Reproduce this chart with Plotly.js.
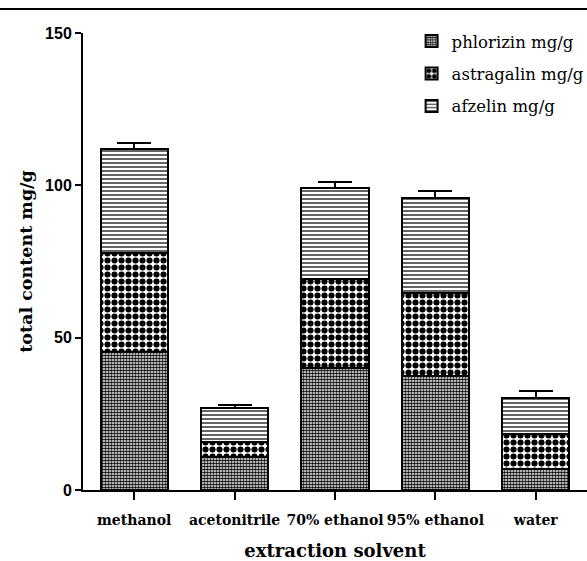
<!DOCTYPE html>
<html>
<head>
<meta charset="utf-8">
<script src="https://cdn.plot.ly/plotly-3.0.1.min.js"></script>
<style>html,body{margin:0;padding:0;background:#fff;}#chart{width:587px;height:561px;}</style>
</head>
<body>
<div id="chart"></div>
<script>
const categories = ['methanol', 'acetonitrile', '70% ethanol', '95% ethanol', 'water'];
const phlorizin = [45.3, 10.8, 40.2, 37.4, 6.9];
const astragalin = [32.5, 4.9, 29.2, 27.4, 11.5];
const afzelin = [34.1, 11.1, 29.7, 31.2, 11.8];
const phlorizinErr = [3.5, 0.8, 2.8, 1.3, 2.0];
const astragalinErr = [3.6, 0.6, 2.5, 1.8, 3.6];
const afzelinErr = [2.0, 1.0, 2.1, 2.2, 2.3];
const seriesNames = ['phlorizin mg/g', 'astragalin mg/g', 'afzelin mg/g'];
const yTicks = [0, 50, 100, 150];

function errBar(arr) {
  return {type: 'data', symmetric: false, array: arr, arrayminus: arr.map(() => 0),
          color: '#000', thickness: 2, width: 17};
}
const lineStyle = {color: '#000', width: 2};
const traces = [
  {type: 'bar', name: seriesNames[0], x: categories, y: phlorizin, width: 0.67, legendgroup: 'a',
   marker: {color: '#fff', line: lineStyle, pattern: {shape: '.', size: 3, solidity: 0.6, fgcolor: '#000', bgcolor: '#fff', fillmode: 'replace'}},
   error_y: errBar(phlorizinErr)},
  {type: 'bar', name: seriesNames[1], x: categories, y: astragalin, width: 0.67, legendgroup: 'b',
   marker: {color: '#fff', line: lineStyle, pattern: {shape: '.', size: 7, solidity: 0.6, fgcolor: '#000', bgcolor: '#fff', fillmode: 'replace'}},
   error_y: errBar(astragalinErr)},
  {type: 'bar', name: seriesNames[2], x: categories, y: afzelin, width: 0.67, legendgroup: 'c',
   marker: {color: '#fff', line: lineStyle, pattern: {shape: '-', size: 4, solidity: 0.35, fgcolor: '#222', bgcolor: '#fff', fillmode: 'replace'}},
   error_y: errBar(afzelinErr)}
];

const layout = {
  width: 587, height: 561,
  margin: {l: 83, r: 0, t: 33, b: 71, pad: 0, autoexpand: false},
  paper_bgcolor: '#fff', plot_bgcolor: '#fff',
  barmode: 'stack',
  showlegend: true,
  legend: {x: 0.652, xanchor: 'left', y: 1.02, yanchor: 'top', traceorder: 'grouped', tracegroupgap: 8,
           font: {family: 'DejaVu Serif', size: 16.5, color: '#000'}, bgcolor: 'rgba(0,0,0,0)'},
  xaxis: {
    type: 'category', range: [-0.51, 4.51], tickangle: 0, automargin: false,
    showline: true, linecolor: '#000', linewidth: 2,
    ticks: 'outside', ticklen: 8, tickwidth: 2, tickcolor: '#000',
    ticklabelstandoff: 8,
    showgrid: false, zeroline: false,
    tickfont: {family: 'DejaVu Serif', size: 14, color: '#000', weight: 'bold'},
    title: {text: 'extraction solvent', standoff: 19,
            font: {family: 'DejaVu Serif', size: 18, color: '#000', weight: 'bold'}}
  },
  yaxis: {
    range: [0, 150], tickvals: yTicks, ticktext: yTicks.map(String), automargin: false,
    showline: true, linecolor: '#000', linewidth: 2,
    ticks: 'outside', ticklen: 6, tickwidth: 2, tickcolor: '#000',
    showgrid: false, zeroline: false,
    tickfont: {family: 'Liberation Sans', size: 16, color: '#000', weight: 'bold'},
    title: {text: 'total content mg/g', standoff: 8,
            font: {family: 'DejaVu Serif', size: 17.5, color: '#000', weight: 'bold'}}
  },
  shapes: [
    {type: 'line', xref: 'paper', yref: 'paper', x0: -83/504, x1: 1.01, y0: 1 + 24/457, y1: 1 + 24/457,
     line: {color: '#000', width: 2}}
  ]
};

Plotly.newPlot('chart', traces, layout, {displayModeBar: false, staticPlot: true});
</script>
</body>
</html>
